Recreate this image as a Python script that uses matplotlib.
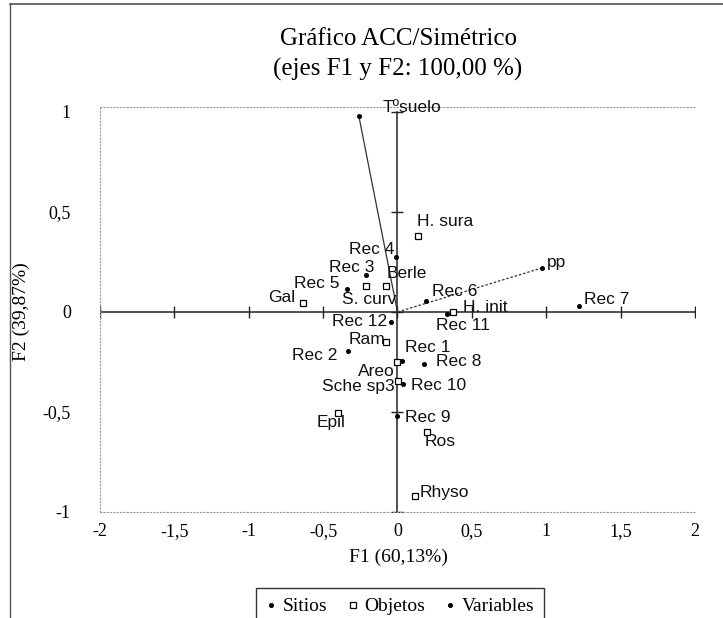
#!/usr/bin/env python3
from __future__ import annotations

import matplotlib

matplotlib.use("Agg")
import matplotlib.pyplot as plt  # noqa: E402
from matplotlib.lines import Line2D  # noqa: E402

# --- data (F1, F2 coordinates) ---
SITE_NAMES = ["Rec 1", "Rec 2", "Rec 3", "Rec 4", "Rec 5", "Rec 6",
              "Rec 7", "Rec 8", "Rec 9", "Rec 10", "Rec 11", "Rec 12"]
SITE_F1 = [0.03, -0.335, -0.215, -0.01, -0.34, 0.19, 1.22, 0.18, 0.0, 0.04, 0.335, -0.045]
SITE_F2 = [-0.245, -0.195, 0.185, 0.275, 0.115, 0.055, 0.03, -0.26, -0.52, -0.36, -0.01, -0.05]

OBJECT_NAMES = ["H. sura", "Berle", "S. curv", "Gal", "Ram", "Areo",
                "Sche sp3", "Epil", "Ros", "Rhyso", "H. init"]
OBJECT_F1 = [0.135, -0.08, -0.21, -0.635, -0.075, 0.0, 0.005, -0.40, 0.20, 0.12, 0.37]
OBJECT_F2 = [0.38, 0.13, 0.13, 0.045, -0.15, -0.25, -0.345, -0.505, -0.60, -0.92, 0.0]

VARIABLE_NAMES = ["Tºsuelo", "pp"]
VARIABLE_F1 = [-0.26, 0.97]
VARIABLE_F2 = [0.98, 0.22]

X_TICKS = [-2, -1.5, -1, -0.5, 0, 0.5, 1, 1.5, 2]
X_TICK_LABELS = ["-2", "-1,5", "-1", "-0,5", "0", "0,5", "1", "1,5", "2"]
Y_TICKS = [-1, -0.5, 0, 0.5, 1]
Y_TICK_LABELS = ["-1", "-0,5", "0", "0,5", "1"]

# label placement (pixel offset from the point, horizontal alignment)
LABEL_POS = {
    "Rec 1": (3, 13, "left"), "Rec 2": (-10, -5, "right"), "Rec 3": (9, 7, "right"),
    "Rec 4": (-2, 8, "right"), "Rec 5": (-7, 6, "right"), "Rec 6": (6, 9, "left"),
    "Rec 7": (5, 6, "left"), "Rec 8": (12, 2, "left"), "Rec 9": (8, -1, "left"),
    "Rec 10": (8, -2, "left"), "Rec 11": (-11, -11, "left"), "Rec 12": (-4, 0, "right"),
    "H. sura": (-1, 14, "left"), "Berle": (1, 12, "left"), "S. curv": (-24, -14, "left"),
    "Gal": (-8, 5, "right"), "Ram": (-1, 3, "right"), "Areo": (-3, -10, "right"),
    "Sche sp3": (-4, -5, "right"), "Epil": (-21, -10, "left"), "Ros": (-3, -10, "left"),
    "Rhyso": (4, 3, "left"), "H. init": (10, 4, "left"),
    "Tºsuelo": (24, 9, "left"), "pp": (5, 6, "left"),
}

W, H = 723, 618
SERIF = ["Liberation Serif", "DejaVu Serif"]
SANS = ["Liberation Sans", "DejaVu Sans"]


def _label(ax, name, x, y):
    dx, dy, ha = LABEL_POS[name]
    ax.annotate(name, (x, y), xytext=(dx, dy), textcoords="offset pixels",
                ha=ha, va="center", fontsize=12.5, family=SANS, color="#111111")


def main() -> int:
    fig = plt.figure(figsize=(W / 100, H / 100), dpi=100)

    # outer frame (only top and left edges survive in the scan)
    fig.add_artist(Line2D([10 / W, 1], [1 - 4 / H, 1 - 4 / H], color="#555555", lw=1.2))
    fig.add_artist(Line2D([10 / W, 10 / W], [0, 1 - 4 / H], color="#555555", lw=1.0))

    x0, x1, y_top, y_bot = 100, 695, 107, 512
    ax = fig.add_axes([x0 / W, 1 - y_bot / H, (x1 - x0) / W, (y_bot - y_top) / H])
    ax.set_xlim(-2, 2)
    ax.set_ylim(-1, 1.025)

    for side in ("left", "top", "bottom"):
        ax.spines[side].set_linestyle((0, (1, 2)))
        ax.spines[side].set_color("#999999")
        ax.spines[side].set_linewidth(0.8)
    ax.spines["right"].set_visible(False)

    ax.set_xticks(X_TICKS, X_TICK_LABELS, family=SERIF, fontsize=13)
    ax.set_yticks(Y_TICKS, Y_TICK_LABELS, family=SERIF, fontsize=13)
    ax.tick_params(axis="x", length=0, pad=8)
    ax.tick_params(axis="y", length=0, pad=21)

    # axes through the origin with their tick marks
    ax.axhline(0, color="#222222", lw=1.1, zorder=2)
    ax.axvline(0, ymin=0, ymax=2 / 2.025, color="#222222", lw=1.1, zorder=2)
    ax.plot(X_TICKS, [0] * len(X_TICKS), ls="none", marker="|", ms=8, mew=1.0, color="#222222")
    ax.plot([0] * len(Y_TICKS), Y_TICKS, ls="none", marker="_", ms=9, mew=1.0, color="#222222")

    # variable vectors
    ax.plot([0, VARIABLE_F1[0]], [0, VARIABLE_F2[0]], color="#333333", lw=0.9, zorder=3)
    ax.plot([0, VARIABLE_F1[1]], [0, VARIABLE_F2[1]], color="#333333", lw=0.9,
            ls=(0, (2, 1.5)), zorder=3)

    ax.plot(SITE_F1, SITE_F2, ls="none", marker="o", ms=2.6, color="black", zorder=4)
    ax.plot(OBJECT_F1, OBJECT_F2, ls="none", marker="s", ms=4, mfc="white",
            mec="black", mew=0.9, zorder=4)
    ax.plot(VARIABLE_F1, VARIABLE_F2, ls="none", marker="o", ms=2.6, color="black", zorder=4)

    for names, xs, ys in ((SITE_NAMES, SITE_F1, SITE_F2),
                          (OBJECT_NAMES, OBJECT_F1, OBJECT_F2),
                          (VARIABLE_NAMES, VARIABLE_F1, VARIABLE_F2)):
        for name, x, y in zip(names, xs, ys):
            _label(ax, name, x, y)

    fig.text(398 / W, 1 - 39 / H, "Gráfico ACC/Simétrico", ha="center", va="center",
             family=SERIF, fontsize=18)
    fig.text(398 / W, 1 - 69 / H, "(ejes F1 y F2: 100,00 %)", ha="center", va="center",
             family=SERIF, fontsize=18)
    fig.text(398 / W, 1 - 557 / H, "F1 (60,13%)", ha="center", va="center",
             family=SERIF, fontsize=14)
    fig.text(21 / W, 1 - 312 / H, "F2 (39,87%)", ha="center", va="center",
             rotation=90, family=SERIF, fontsize=14)

    handles = [
        Line2D([], [], ls="none", marker="o", ms=2.6, color="black"),
        Line2D([], [], ls="none", marker="s", ms=4, mfc="white", mec="black", mew=0.9),
        Line2D([], [], ls="none", marker="o", ms=2.6, color="black"),
    ]
    leg = fig.legend(handles, ["Sitios", "Objetos", "Variables"], ncol=3,
                     loc="upper center", bbox_to_anchor=(400 / W, 1 - 588 / H),
                     prop={"family": SERIF, "size": 14}, frameon=True, fancybox=False,
                     handlelength=0.6, handletextpad=0.3, columnspacing=1.0,
                     borderpad=0.5, borderaxespad=0, edgecolor="black")
    leg.get_frame().set_linewidth(1.0)

    fig.savefig("out.png", dpi=100)
    plt.close(fig)
    return 0


if __name__ == "__main__":
    raise SystemExit(main())
